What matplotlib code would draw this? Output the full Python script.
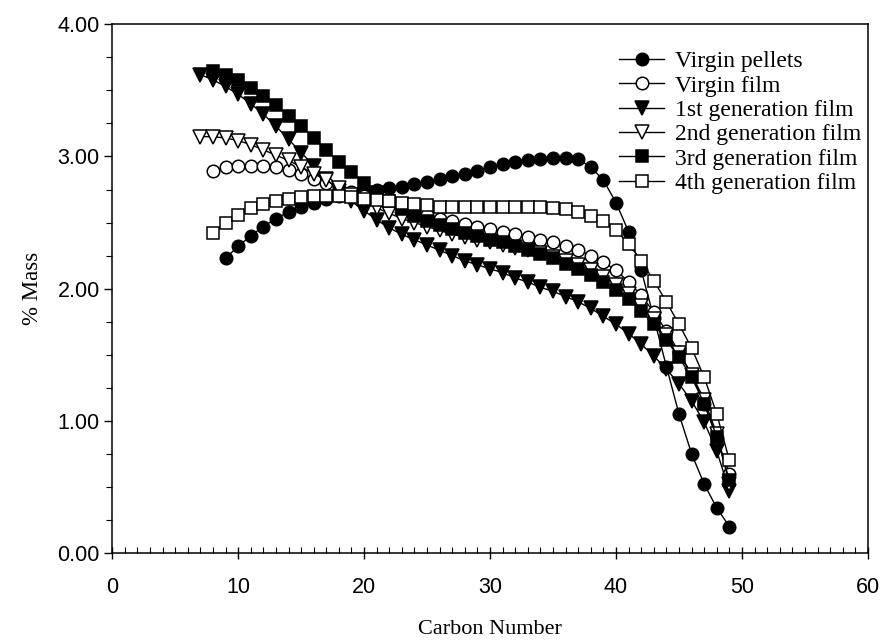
"""Carbon number distribution of virgin and recycled film samples."""
import matplotlib
matplotlib.use("Agg")
import matplotlib.pyplot as plt
from matplotlib.ticker import MultipleLocator, FormatStrFormatter

# carbon numbers for each sample
c_pellets = list(range(9, 50))
c_virgin_film = list(range(8, 50))
c_gen1 = list(range(7, 50))
c_gen2 = list(range(7, 50))
c_gen3 = list(range(8, 50))
c_gen4 = list(range(8, 50))

# % mass per carbon number
virgin_pellets = [2.23, 2.32, 2.40, 2.47, 2.53, 2.58, 2.62, 2.65, 2.68, 2.70,
                  2.72, 2.73, 2.75, 2.76, 2.77, 2.79, 2.81, 2.83, 2.85, 2.87,
                  2.89, 2.92, 2.94, 2.96, 2.97, 2.98, 2.99, 2.99, 2.98, 2.92,
                  2.82, 2.65, 2.43, 2.14, 1.78, 1.41, 1.05, 0.75, 0.52, 0.34,
                  0.20]
virgin_film = [2.89, 2.92, 2.93, 2.93, 2.93, 2.92, 2.90, 2.87, 2.83, 2.80,
               2.76, 2.73, 2.70, 2.67, 2.64, 2.61, 2.58, 2.56, 2.53, 2.51,
               2.49, 2.47, 2.45, 2.43, 2.41, 2.39, 2.37, 2.35, 2.32, 2.29,
               2.25, 2.20, 2.14, 2.05, 1.95, 1.82, 1.68, 1.52, 1.35, 1.13,
               0.87, 0.60]
gen1_film = [3.62, 3.58, 3.53, 3.47, 3.40, 3.32, 3.23, 3.13, 3.03, 2.93,
             2.83, 2.74, 2.66, 2.59, 2.52, 2.46, 2.41, 2.37, 2.33, 2.29,
             2.25, 2.21, 2.18, 2.15, 2.12, 2.08, 2.05, 2.01, 1.98, 1.94,
             1.90, 1.85, 1.79, 1.73, 1.66, 1.58, 1.49, 1.39, 1.28, 1.15,
             0.99, 0.77, 0.47]
gen2_film = [3.15, 3.15, 3.14, 3.12, 3.09, 3.05, 3.01, 2.97, 2.92, 2.87,
             2.82, 2.76, 2.71, 2.66, 2.61, 2.57, 2.53, 2.50, 2.47, 2.44,
             2.41, 2.39, 2.37, 2.35, 2.33, 2.31, 2.29, 2.27, 2.24, 2.21,
             2.18, 2.14, 2.09, 2.03, 1.96, 1.87, 1.77, 1.65, 1.51, 1.35,
             1.16, 0.90, 0.52]
gen3_film = [3.65, 3.62, 3.58, 3.52, 3.46, 3.39, 3.31, 3.23, 3.14, 3.05,
             2.96, 2.88, 2.80, 2.73, 2.66, 2.60, 2.55, 2.51, 2.48, 2.45,
             2.42, 2.40, 2.37, 2.35, 2.32, 2.29, 2.26, 2.23, 2.19, 2.15,
             2.10, 2.05, 1.99, 1.92, 1.83, 1.73, 1.61, 1.48, 1.33, 1.13,
             0.88, 0.55]
gen4_film = [2.42, 2.50, 2.56, 2.61, 2.64, 2.66, 2.68, 2.69, 2.70, 2.70,
             2.70, 2.69, 2.68, 2.67, 2.66, 2.65, 2.64, 2.63, 2.62, 2.62,
             2.62, 2.62, 2.62, 2.62, 2.62, 2.62, 2.62, 2.61, 2.60, 2.58,
             2.55, 2.51, 2.44, 2.34, 2.21, 2.06, 1.90, 1.73, 1.55, 1.33,
             1.05, 0.70]

labels = ["Virgin pellets", "Virgin film", "1st generation film",
          "2nd generation film", "3rd generation film", "4th generation film"]

SERIES = [
    (c_pellets, virgin_pellets, "o", "black"),
    (c_virgin_film, virgin_film, "o", "white"),
    (c_gen1, gen1_film, "v", "black"),
    (c_gen2, gen2_film, "v", "white"),
    (c_gen3, gen3_film, "s", "black"),
    (c_gen4, gen4_film, "s", "white"),
]

SERIF = ["Liberation Serif", "DejaVu Serif"]
SANS = ["Liberation Sans", "DejaVu Sans"]

fig = plt.figure(figsize=(8.83, 6.4), dpi=100)
ax = fig.add_axes([0.127, 0.136, 0.856, 0.826])

for (x, y, mk, fc), lab in zip(SERIES, labels):
    ms = 9.5 if mk == "v" else 9
    ax.plot(x, y, color="black", lw=1.0, marker=mk, markersize=ms,
            markerfacecolor=fc, markeredgecolor="black", markeredgewidth=1.1,
            label=lab)

ax.set_xlim(0, 60)
ax.set_ylim(0, 4)
ax.xaxis.set_major_locator(MultipleLocator(10))
ax.xaxis.set_minor_locator(MultipleLocator(1))
ax.yaxis.set_major_locator(MultipleLocator(1))
ax.yaxis.set_minor_locator(MultipleLocator(0.25))
ax.yaxis.set_major_formatter(FormatStrFormatter("%.2f"))

ax.tick_params(axis="x", which="major", direction="inout", length=8, width=1, pad=13)
ax.tick_params(axis="x", which="minor", direction="in", length=4, width=0.8)
ax.tick_params(axis="y", which="major", direction="out", length=6, width=1, pad=3)
ax.tick_params(axis="y", which="minor", direction="out", length=4, width=0.8)
for t in ax.get_xticklabels() + ax.get_yticklabels():
    t.set_family(SANS)
    t.set_fontsize(15.5)
for sp in ax.spines.values():
    sp.set_linewidth(1.1)

ax.set_xlabel("Carbon Number", family=SERIF, fontsize=16, labelpad=16)
ax.set_ylabel("% Mass", family=SERIF, fontsize=16.5, labelpad=10)

ax.legend(loc="upper right", frameon=False, prop={"family": SERIF, "size": 17},
          handlelength=1.9, handletextpad=0.45, labelspacing=0.12,
          borderpad=0, borderaxespad=0, bbox_to_anchor=(0.991, 0.95))

fig.savefig("out.png", dpi=100, facecolor="white")
